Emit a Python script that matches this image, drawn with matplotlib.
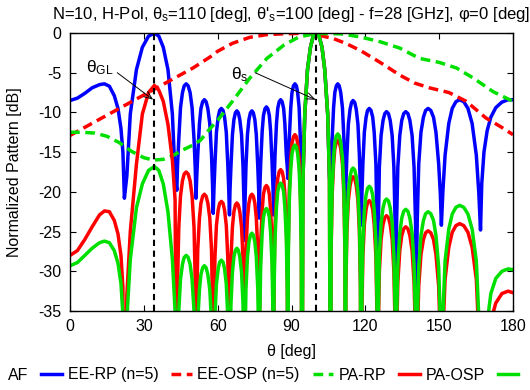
import matplotlib
matplotlib.use("Agg")
import matplotlib.pyplot as plt

plt.rcParams['font.family'] = ['Liberation Sans', 'DejaVu Sans']
plt.rcParams['mathtext.fontset'] = 'custom'
plt.rcParams['mathtext.rm'] = 'Liberation Sans'
plt.rcParams['mathtext.it'] = 'Liberation Sans:italic'
plt.rcParams['axes.unicode_minus'] = False
plt.rcParams['font.size'] = 11.5

theta = [0, 3, 6, 9, 12, 14, 16, 18, 19.5, 20.7, 21.5, 22.1,
         23.1, 24.5, 27.0, 29.4, 31.9, 34.3, 36.1, 37.9, 39.8, 41.6, 42.7, 43.4,
         43.7, 44.2, 44.9, 45.7, 46.4, 47.2, 48.0, 48.8, 49.6, 50.4, 50.9, 51.2,
         51.5, 51.9, 52.6, 53.2, 53.9, 54.6, 55.3, 56.0, 56.8, 57.5, 57.9, 58.2,
         58.5, 58.9, 59.5, 60.2, 60.8, 61.5, 62.2, 62.8, 63.5, 64.1, 64.5, 64.8,
         65.0, 65.4, 66.0, 66.6, 67.2, 67.8, 68.4, 69.0, 69.7, 70.3, 70.7, 70.9,
         71.1, 71.5, 72.1, 72.7, 73.3, 73.9, 74.5, 75.1, 75.7, 76.3, 76.7, 76.9,
         77.1, 77.5, 78.1, 78.6, 79.2, 79.8, 80.4, 81.0, 81.5, 82.1, 82.5, 82.7,
         82.9, 83.3, 83.9, 84.4, 85.0, 85.6, 86.2, 86.8, 87.3, 87.9, 88.3, 88.5,
         88.7, 89.1, 89.7, 90.2, 90.8, 91.4, 92.0, 92.5, 93.1, 93.6, 94.0, 94.2,
         94.7, 95.4, 96.5, 97.7, 98.8, 100.0, 101.2, 102.4, 103.5, 104.7, 105.4, 105.9,
         106.1, 106.5, 107.1, 107.6, 108.2, 108.8, 109.4, 110.0, 110.7, 111.3, 111.7, 111.9,
         112.1, 112.5, 113.1, 113.8, 114.4, 115.0, 115.7, 116.3, 117.0, 117.6, 118.0, 118.3,
         118.6, 119.0, 119.6, 120.3, 120.9, 121.6, 122.3, 123.0, 123.6, 124.3, 124.7, 125.0,
         125.3, 125.7, 126.4, 127.2, 127.9, 128.6, 129.4, 130.1, 130.9, 131.6, 132.1, 132.4,
         132.7, 133.2, 134.0, 134.8, 135.6, 136.4, 137.3, 138.1, 139.0, 139.8, 140.4, 140.7,
         141.1, 141.7, 142.6, 143.6, 144.5, 145.5, 146.6, 147.7, 148.7, 149.8, 150.5, 150.9,
         151.5, 152.4, 153.9, 155.3, 156.8, 158.3, 160.0, 161.7, 163.4, 165.1, 166.1, 166.8,
         167.3, 168.2, 169.5, 171.0, 173.0, 175.5, 178.0, 180.0]

af = [-8.5, -8.2, -7.6, -6.9, -6.5, -6.4, -6.7, -7.9, -9.5, -12.0, -15.0, -20.8,
      -18.0, -10.2, -4.6, -1.8, -0.4, 0.0, -0.4, -1.8, -4.6, -10.2, -18.0, -19.8,
      -16.6, -13.4, -9.4, -7.5, -6.65, -6.4, -6.65, -7.5, -9.4, -13.4, -17.1, -20.8,
      -18.1, -15.4, -11.4, -9.5, -8.65, -8.4, -8.65, -9.5, -11.4, -15.4, -19.0, -22.7,
      -19.6, -16.5, -12.5, -10.6, -9.75, -9.5, -9.75, -10.6, -12.5, -16.5, -19.7, -22.9,
      -19.9, -16.8, -12.8, -10.9, -10.05, -9.8, -10.05, -10.9, -12.8, -16.8, -21.4, -26.1,
      -21.4, -16.8, -12.8, -10.9, -10.05, -9.8, -10.05, -10.9, -12.8, -16.8, -20.1, -23.3,
      -19.8, -16.3, -12.3, -10.4, -9.55, -9.3, -9.55, -10.4, -12.3, -16.3, -19.6, -22.9,
      -19.2, -15.4, -11.4, -9.5, -8.65, -8.4, -8.65, -9.5, -11.4, -15.4, -16.9, -18.3,
      -15.9, -13.4, -9.4, -7.5, -6.65, -6.4, -6.65, -7.5, -9.4, -13.4, -17.7, -22.0,
      -18.0, -10.2, -4.6, -1.8, -0.4, 0.0, -0.4, -1.8, -4.6, -10.2, -18.0, -20.0,
      -16.7, -13.4, -9.4, -7.5, -6.65, -6.4, -6.65, -7.5, -9.4, -13.4, -18.1, -22.7,
      -19.1, -15.5, -11.5, -9.6, -8.75, -8.5, -8.75, -9.6, -11.5, -15.5, -19.9, -24.2,
      -20.4, -16.5, -12.5, -10.6, -9.75, -9.5, -9.75, -10.6, -12.5, -16.5, -23.5, -31.1,
      -23.9, -16.9, -12.9, -11.0, -10.15, -9.9, -10.15, -11.0, -12.9, -16.9, -23.9, -31.9,
      -23.9, -16.9, -12.9, -11.0, -10.15, -9.9, -10.15, -11.0, -12.9, -16.9, -23.9, -32.1,
      -23.5, -16.5, -12.5, -10.6, -9.75, -9.5, -9.75, -10.6, -12.5, -16.5, -20.4, -24.2,
      -20.0, -15.4, -11.4, -9.5, -8.65, -8.4, -8.65, -9.5, -11.4, -15.4, -20.1, -24.8,
      -19.0, -15.0, -12.3, -10.6, -9.4, -8.7, -8.4, -8.4]

pa_rp = [-28.0, -27.4, -26.0, -24.4, -22.9, -22.4, -22.5, -23.6, -25.3, -28.0, -32.0, -60,
         -33.0, -25.0, -16.5, -10.2, -7.5, -6.6, -7.2, -8.6, -11.5, -16.0, -21.0, -60,
         -31.5, -24.5, -20.5, -18.6, -17.75, -17.5, -17.75, -18.6, -20.5, -24.5, -31.5, -60,
         -34.3, -27.3, -23.3, -21.4, -20.55, -20.3, -20.55, -21.4, -23.3, -27.3, -34.3, -60,
         -35.2, -28.2, -24.2, -22.3, -21.45, -21.2, -21.45, -22.3, -24.2, -28.2, -35.2, -60,
         -35.4, -28.4, -24.4, -22.5, -21.65, -21.4, -21.65, -22.5, -24.4, -28.4, -35.4, -60,
         -34.3, -27.3, -23.3, -21.4, -20.55, -20.3, -20.55, -21.4, -23.3, -27.3, -34.3, -60,
         -33.2, -26.2, -22.2, -20.3, -19.45, -19.2, -19.45, -20.3, -22.2, -26.2, -33.2, -60,
         -31.2, -24.2, -20.2, -18.3, -17.45, -17.2, -17.45, -18.3, -20.2, -24.2, -31.2, -60,
         -26.8, -19.8, -15.8, -13.9, -13.05, -12.8, -13.05, -13.9, -15.8, -19.8, -26.8, -60,
         -18.0, -10.2, -4.6, -1.8, -0.4, 0.0, -0.4, -1.8, -4.6, -10.2, -18.0, -60,
         -27.5, -20.5, -16.5, -14.6, -13.75, -13.5, -13.75, -14.6, -16.5, -20.5, -27.5, -60,
         -32.1, -25.1, -21.1, -19.2, -18.35, -18.1, -18.35, -19.2, -21.1, -25.1, -32.1, -60,
         -35.1, -28.1, -24.1, -22.2, -21.35, -21.1, -21.35, -22.2, -24.1, -28.1, -35.1, -60,
         -37.0, -30.0, -26.0, -24.1, -23.25, -23.0, -23.25, -24.1, -26.0, -30.0, -37.0, -60,
         -38.4, -31.4, -27.4, -25.5, -24.65, -24.4, -24.65, -25.5, -27.4, -31.4, -38.4, -60,
         -38.9, -31.9, -27.9, -26.0, -25.15, -24.9, -25.15, -26.0, -27.9, -31.9, -38.9, -60,
         -38.0, -31.0, -27.0, -25.1, -24.25, -24.0, -24.25, -25.1, -27.0, -31.0, -38.0, -60,
         -55.0, -46.0, -40.0, -36.3, -34.0, -32.8, -32.5, -32.7]

pa_osp = [-29.3, -28.9, -28.0, -27.1, -26.4, -26.2, -26.4, -27.4, -29.0, -31.5, -35.5, -60,
          -36.0, -28.5, -22.0, -19.0, -17.3, -16.8, -17.3, -19.0, -22.5, -28.5, -35.0, -60,
          -42.0, -35.0, -31.0, -29.1, -28.25, -28.0, -28.25, -29.1, -31.0, -35.0, -42.0, -60,
          -43.3, -36.3, -32.3, -30.4, -29.55, -29.3, -29.55, -30.4, -32.3, -36.3, -43.3, -60,
          -42.6, -35.6, -31.6, -29.7, -28.85, -28.6, -28.85, -29.7, -31.6, -35.6, -42.6, -60,
          -41.1, -34.1, -30.1, -28.2, -27.35, -27.1, -27.35, -28.2, -30.1, -34.1, -41.1, -60,
          -39.2, -32.2, -28.2, -26.3, -25.45, -25.2, -25.45, -26.3, -28.2, -32.2, -39.2, -60,
          -36.1, -29.1, -25.1, -23.2, -22.35, -22.1, -22.35, -23.2, -25.1, -29.1, -36.1, -60,
          -32.9, -25.9, -21.9, -20.0, -19.15, -18.9, -19.15, -20.0, -21.9, -25.9, -32.9, -60,
          -28.1, -21.1, -17.1, -15.2, -14.35, -14.1, -14.35, -15.2, -17.1, -21.1, -28.1, -60,
          -18.0, -10.2, -4.6, -1.8, -0.4, 0.0, -0.4, -1.8, -4.6, -10.2, -18.0, -60,
          -26.7, -19.7, -15.7, -13.8, -12.95, -12.7, -12.95, -13.8, -15.7, -19.7, -26.7, -60,
          -31.0, -24.0, -20.0, -18.1, -17.25, -17.0, -17.25, -18.1, -20.0, -24.0, -31.0, -60,
          -33.3, -26.3, -22.3, -20.4, -19.55, -19.3, -19.55, -20.4, -22.3, -26.3, -33.3, -60,
          -34.9, -27.9, -23.9, -22.0, -21.15, -20.9, -21.15, -22.0, -23.9, -27.9, -34.9, -60,
          -36.2, -29.2, -25.2, -23.3, -22.45, -22.2, -22.45, -23.3, -25.2, -29.2, -36.2, -60,
          -36.5, -29.5, -25.5, -23.6, -22.75, -22.5, -22.75, -23.6, -25.5, -29.5, -36.5, -60,
          -35.7, -28.7, -24.7, -22.8, -21.95, -21.7, -21.95, -22.8, -24.7, -28.7, -35.7, -60,
          -55.0, -44.0, -36.5, -32.8, -30.9, -30.0, -29.7, -29.8]

# element patterns (smooth)
theta_ee_rp = [0, 10, 20, 30, 40, 50, 57, 60, 66, 73, 80, 87, 93, 100, 107,
               112, 118, 126, 134, 140, 146, 154, 161, 169, 175, 180]
ee_rp = [-12.9, -11.2, -9.5, -7.8, -6.1, -4.4, -3.0, -2.3, -1.3, -0.55, -0.2,
         -0.1, -0.05, -0.2, -0.7, -1.3, -2.2, -3.7, -5.3, -6.3, -6.9, -7.5,
         -8.6, -10.7, -11.8, -12.8]

theta_ee_osp = [0, 5, 10, 15, 20, 25, 30, 34, 38, 42, 46, 50, 53, 57, 60, 66,
                73, 80, 87, 93, 100, 110, 118, 126, 134, 142, 150, 157, 164,
                172, 180]
ee_osp = [-12.5, -12.5, -12.6, -13.0, -13.8, -14.9, -15.7, -16.0, -15.9, -15.4,
          -14.7, -14.1, -13.5, -12.0, -11.0, -8.6, -5.7, -3.2, -1.5, -0.5,
          -0.05, -0.1, -0.5, -1.1, -1.9, -3.2, -3.7, -4.4, -5.7, -7.4, -8.6]

theta_gl = 34.3
theta_s = 100

blue, red, green = '#0000ff', '#ff0000', '#00e000'
lw = 2.5
dash = (2.8, 1.6)

fig = plt.figure(figsize=(5.3, 3.9), dpi=100)
ax = fig.add_axes([70 / 530, 79 / 390, 443 / 530, 278 / 390])

l1, = ax.plot(theta, af, color=blue, lw=lw, label='AF')
l2, = ax.plot(theta_ee_rp, ee_rp, color=red, lw=lw, dashes=dash, label='EE-RP (n=5)')
l3, = ax.plot(theta_ee_osp, ee_osp, color=green, lw=lw, dashes=dash, label='EE-OSP (n=5)')
l4, = ax.plot(theta, pa_rp, color=red, lw=lw, label='PA-RP')
l5, = ax.plot(theta, pa_osp, color=green, lw=lw, label='PA-OSP')

for t in (theta_gl, theta_s):
    ax.plot([t, t], [-35, 0], color='black', lw=1.5, dashes=(3, 2.2))

ax.text(6.5, -4.3, 'θ$_{\\rm GL}$', fontsize=12.5, va='center', ha='left')
ax.annotate('', xy=(33.8, -8.4), xytext=(19.2, -5.0),
            arrowprops=dict(arrowstyle='->,head_length=0.5,head_width=0.2',
                            color='black', lw=0.7, shrinkA=0, shrinkB=0))
ax.text(65.4, -5.3, 'θ$_{\\rm s}$', fontsize=12.5, va='center', ha='left')
ax.annotate('', xy=(99.8, -8.4), xytext=(75.2, -5.0),
            arrowprops=dict(arrowstyle='->,head_length=0.5,head_width=0.2',
                            color='black', lw=0.7, shrinkA=0, shrinkB=0))

ax.set_xlim(0, 180)
ax.set_ylim(-35, 0)
ax.set_xticks(range(0, 181, 30))
ax.set_yticks(range(-35, 1, 5))
ax.tick_params(direction='in', length=4, width=0.8, top=True, right=True, pad=6)
for s in ax.spines.values():
    s.set_linewidth(1.0)

ax.set_xlabel('θ [deg]')
ax.xaxis.label.set_va('center')
ax.xaxis.set_label_coords(0.5, -0.147)
ax.set_ylabel('Normalized Pattern [dB]')
ax.yaxis.label.set_va('center')
ax.yaxis.set_label_coords(-0.126, 0.5)

ax.set_title("N=10, H-Pol, θ$_{\\rm s}$=110 [deg], θ'$_{\\rm s}$=100 [deg] - f=28 [GHz], φ=0 [deg]",
             fontsize=12, pad=10)

fig.legend(handles=[l1, l2, l3, l4, l5], loc='center left',
           bbox_to_anchor=(8 / 530, 1 - 375 / 390), ncol=5, frameon=False,
           markerfirst=False, handlelength=1.3, handletextpad=0.8,
           columnspacing=0.35, borderpad=0, borderaxespad=0, fontsize=11.5)

fig.savefig('out.png', dpi=100)
